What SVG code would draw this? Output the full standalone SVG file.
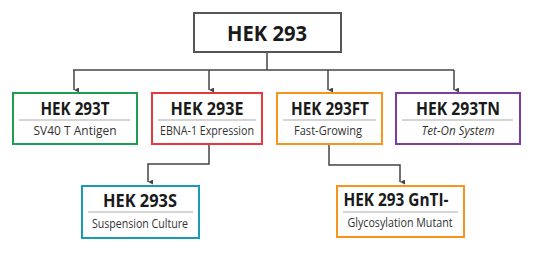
<svg xmlns="http://www.w3.org/2000/svg" width="550" height="273" viewBox="0 0 550 273">
<defs>
<marker id="arr" viewBox="0 0 6 6" refX="3" refY="6" markerWidth="5" markerHeight="5" orient="auto-start-reverse" markerUnits="userSpaceOnUse">
<path d="M0,0 L6,0 L3,6 Z" fill="#444"/>
</marker>
<style>
.box{fill:#fff;stroke-width:2}
.t{font-family:"Open Sans","Liberation Sans",sans-serif;font-weight:700;font-size:18px;fill:#1a1a1a;text-anchor:middle}
.s{font-family:"Open Sans","Liberation Sans",sans-serif;font-size:12.5px;fill:#333;text-anchor:middle}
.sep{stroke:#aaa;stroke-width:1}
.c{fill:none;stroke:#444;stroke-width:1.5}
</style>
</defs>
<rect width="550" height="273" fill="#fff"/>
<g id="connectors">
<path class="c" d="M267,52 V70"/>
<path class="c" d="M73,70 H454"/>
<path class="c" d="M74,70 V90" marker-end="url(#arr)"/>
<path class="c" d="M209,70 V90" marker-end="url(#arr)"/>
<path class="c" d="M328,70 V90" marker-end="url(#arr)"/>
<path class="c" d="M454,70 V90" marker-end="url(#arr)"/>
<path class="c" d="M209,144 V164 H148 V182" marker-end="url(#arr)"/>
<path class="c" d="M329,144 V165 H400 V182" marker-end="url(#arr)"/>
</g>
<g id="hek293">
<rect class="box" x="194" y="13" width="147" height="39" stroke="#555"/>
<text class="t" x="267" y="41" style="font-size:21px" textLength="80" lengthAdjust="spacingAndGlyphs">HEK 293</text>
</g>
<g id="hek293t">
<rect class="box" x="13" y="93" width="124" height="51" stroke="#1f9d55"/>
<text class="t" x="75" y="115" textLength="69" lengthAdjust="spacingAndGlyphs">HEK 293T</text>
<line class="sep" x1="19" y1="120" x2="130" y2="120"/>
<text class="s" x="75" y="135" textLength="83" lengthAdjust="spacingAndGlyphs">SV40 T Antigen</text>
</g>
<g id="hek293e">
<rect class="box" x="152" y="93" width="110" height="51" stroke="#e8383d"/>
<text class="t" x="207" y="115" textLength="73" lengthAdjust="spacingAndGlyphs">HEK 293E</text>
<line class="sep" x1="158" y1="120" x2="256" y2="120"/>
<text class="s" x="207" y="135" textLength="94" lengthAdjust="spacingAndGlyphs">EBNA-1 Expression</text>
</g>
<g id="hek293ft">
<rect class="box" x="277" y="93" width="105" height="51" stroke="#f7941d"/>
<text class="t" x="330" y="115" textLength="78" lengthAdjust="spacingAndGlyphs">HEK 293FT</text>
<line class="sep" x1="283" y1="120" x2="376" y2="120"/>
<text class="s" x="328" y="135" textLength="68" lengthAdjust="spacingAndGlyphs">Fast-Growing</text>
</g>
<g id="hek293tn">
<rect class="box" x="396" y="93" width="124" height="51" stroke="#7b3f9e"/>
<text class="t" x="458" y="115" textLength="84" lengthAdjust="spacingAndGlyphs">HEK 293TN</text>
<line class="sep" x1="402" y1="120" x2="513" y2="120"/>
<text class="s" x="458" y="135" style="font-style:italic" textLength="73" lengthAdjust="spacingAndGlyphs">Tet-On System</text>
</g>
<g id="hek293s">
<rect class="box" x="82" y="186" width="117" height="52" stroke="#1a9bb5"/>
<text class="t" x="140" y="207" textLength="74" lengthAdjust="spacingAndGlyphs">HEK 293S</text>
<line class="sep" x1="88" y1="212" x2="193" y2="212"/>
<text class="s" x="140" y="228" textLength="96" lengthAdjust="spacingAndGlyphs">Suspension Culture</text>
</g>
<g id="hek293gnti">
<rect class="box" x="337" y="186" width="127" height="51" stroke="#f7941d"/>
<text class="t" x="396" y="206" textLength="105" lengthAdjust="spacingAndGlyphs">HEK 293 GnTI-</text>
<line class="sep" x1="343" y1="212" x2="458" y2="212"/>
<text class="s" x="400" y="227" textLength="105" lengthAdjust="spacingAndGlyphs">Glycosylation Mutant</text>
</g>
</svg>
